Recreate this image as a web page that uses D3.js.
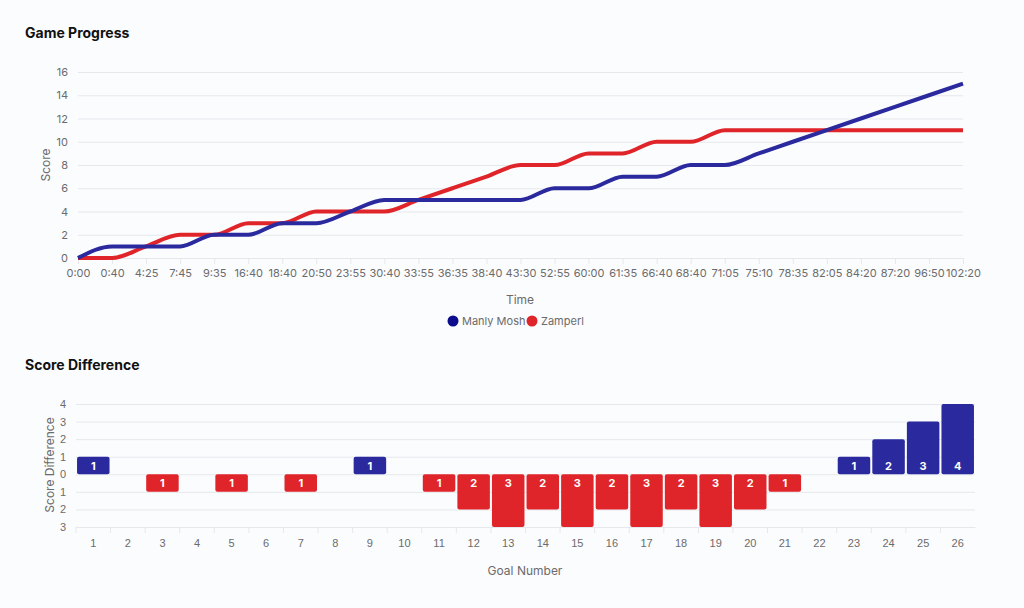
<!DOCTYPE html>
<html><head><meta charset="utf-8">
<script src="https://cdn.jsdelivr.net/npm/d3@7"></script>
<style>
body{margin:0;background:#fbfcfe;font-family:Inter,"Noto Sans",sans-serif;}
</style></head>
<body><svg id="chart"></svg>
<script>
const times = ["0:00","0:40","4:25","7:45","9:35","16:40","18:40","20:50","23:55","30:40","33:55","36:35","38:40","43:30","52:55","60:00","61:35","66:40","68:40","71:05","75:10","78:35","82:05","84:20","87:20","96:50","102:20"];
const manly = [0,1,1,1,2,2,2,3,3,4,5,5,5,5,5,6,6,7,7,8,8,9,10,11,12,13,14,15].slice(0,0);
const manlyScore = [0,1,1,1,2,2,3,3,4,5,5,5,5,5,6,6,7,7,8,9,10,11,12,13,14,15];
const zamperlScore = [0,0,1,2,2,3,3,4,4,4,5,6,7,8,8,9,9,10,10,10,10,10,10,10,10,10];
// per-goal score difference (Manly minus Zamperl)
const goals = d3.range(1,27);
const diffs = [1,0,-1,0,-1,0,-1,0,1,0,-1,-2,-3,-2,-3,-2,-3,-2,-3,-2,-1,0,1,2,3,4];
const seriesNames = ["Manly Mosh","Zamperl"];

const W=1024,H=608;
const blue="#2a2a9e", red="#e0252a", grid="#e6e8ec", txt="#6b6b6b";
const svg=d3.select("#chart").attr("width",W).attr("height",H);

// cumulative scores from the goal differences
const mScores=[0], zScores=[0];
diffs.forEach((d,i)=>{
  const prev = i===0?0:diffs[i-1];
  const m = mScores[i] + (d>prev?1:0), z = zScores[i] + (d<prev?1:0);
  mScores.push(m); zScores.push(z);
});

// ---- Game Progress ----
svg.append("text").attr("x",25).attr("y",38).attr("font-size",14).attr("font-weight",700).attr("fill","#111").text("Game Progress");
const x=d3.scalePoint().domain(times).range([78,963]);
const y=d3.scaleLinear().domain([0,16]).range([258,72]);
const gy=svg.append("g").attr("transform","translate(78,0)")
  .call(d3.axisLeft(y).tickValues(d3.range(0,17,2)).tickSize(-885).tickPadding(10));
gy.select(".domain").remove();
gy.selectAll("line").attr("stroke",grid);
gy.selectAll("text").attr("fill",txt).attr("font-size",11).attr("font-family","Inter");
const gx=svg.append("g").attr("transform","translate(0,258)").call(d3.axisBottom(x).tickSize(6).tickPadding(5));
gx.select(".domain").attr("stroke",grid);
gx.selectAll("line").attr("stroke",grid);
gx.selectAll("text").attr("fill",txt).attr("font-size",11).attr("font-family","Inter");
svg.append("text").attr("x",520).attr("y",304).attr("text-anchor","middle").attr("font-size",12).attr("fill",txt).text("Time");
svg.append("text").attr("transform","translate(50,165) rotate(-90)").attr("text-anchor","middle").attr("font-size",12).attr("fill",txt).text("Score");
const line=d3.line().x((d,i)=>x(times[i])).y(d=>y(d)).curve(d3.curveMonotoneX);
[[zScores,red],[mScores,blue]].forEach(([s,c])=>{
  svg.append("path").attr("d",line(s)).attr("fill","none").attr("stroke",c).attr("stroke-width",4);
});
// legend
const lg=[{n:seriesNames[0],c:"#0c0c8c",x:453},{n:seriesNames[1],c:red,x:532}];
lg.forEach(l=>{
  svg.append("circle").attr("cx",l.x).attr("cy",321).attr("r",5.5).attr("fill",l.c);
  svg.append("text").attr("x",l.x+9).attr("y",325).attr("font-size",11).attr("fill",txt).text(l.n);
});

// ---- Score Difference ----
svg.append("text").attr("x",25).attr("y",370).attr("font-size",14).attr("font-weight",700).attr("fill","#111").text("Score Difference");
const xb=d3.scaleBand().domain(goals).range([76,975]).paddingInner(0.06).paddingOuter(0.03);
const yb=d3.scaleLinear().domain([-3,4]).range([527,404]);
const gyb=svg.append("g").attr("transform","translate(76,0)")
  .call(d3.axisLeft(yb).tickValues(d3.range(-3,5)).tickFormat(d=>Math.abs(d)).tickSize(-899).tickPadding(10));
gyb.select(".domain").remove();
gyb.selectAll("line").attr("stroke",grid);
gyb.selectAll("text").attr("fill",txt).attr("font-size",11);
const xbAxis=svg.append("g").attr("transform","translate(0,527)").call(d3.axisBottom(xb).tickSize(0).tickPadding(12));
xbAxis.select(".domain").attr("stroke",grid);
xbAxis.selectAll("text").attr("fill",txt).attr("font-size",11);
// band separator ticks
svg.append("g").selectAll("line").data(goals).join("line")
  .attr("x1",d=>xb(d)-xb.step()*xb.paddingInner()/2).attr("x2",d=>xb(d)-xb.step()*xb.paddingInner()/2)
  .attr("y1",527).attr("y2",533).attr("stroke",grid);
svg.append("text").attr("x",525).attr("y",575).attr("text-anchor","middle").attr("font-size",12).attr("fill",txt).text("Goal Number");
svg.append("text").attr("transform","translate(54,465) rotate(-90)").attr("text-anchor","middle").attr("font-size",12).attr("fill",txt).text("Score Difference");
const bd=goals.map((g,i)=>({g,v:diffs[i]})).filter(d=>d.v!==0);
svg.append("g").selectAll("rect").data(bd).join("rect")
  .attr("x",d=>xb(d.g)).attr("width",xb.bandwidth())
  .attr("y",d=>yb(Math.max(0,d.v))).attr("height",d=>Math.abs(yb(d.v)-yb(0)))
  .attr("rx",2).attr("fill",d=>d.v>0?blue:red);
svg.append("g").selectAll("text").data(bd).join("text")
  .attr("x",d=>xb(d.g)+xb.bandwidth()/2).attr("y",d=>d.v>0?yb(0)-4:yb(0)+13)
  .attr("text-anchor","middle").attr("font-size",11).attr("font-weight",700).attr("fill","#fff")
  .text(d=>Math.abs(d.v));
</script></body></html>
